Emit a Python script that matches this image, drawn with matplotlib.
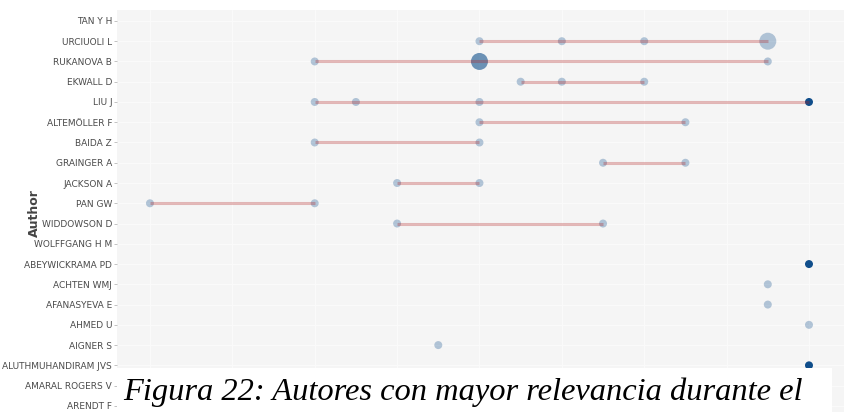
import matplotlib
matplotlib.use("Agg")
import matplotlib.pyplot as plt
from matplotlib.patches import Rectangle
import numpy as np

# ---- data ----
authors = ["TAN Y H", "URCIUOLI L", "RUKANOVA B", "EKWALL D", "LIU J",
           "ALTEMÖLLER F", "BAIDA Z", "GRAINGER A", "JACKSON A", "PAN GW",
           "WIDDOWSON D", "WOLFFGANG H M", "ABEYWICKRAMA PD", "ACHTEN WMJ",
           "AFANASYEVA E", "AHMED U", "AIGNER S", "ALUTHMUHANDIRAM JVS",
           "AMARAL ROGERS V", "ARENDT F"]

# one entry per point: author, year, number of articles, total citations per year
pt_author = ["URCIUOLI L", "URCIUOLI L", "URCIUOLI L", "URCIUOLI L",
             "RUKANOVA B", "RUKANOVA B", "RUKANOVA B",
             "EKWALL D", "EKWALL D", "EKWALL D",
             "LIU J", "LIU J", "LIU J", "LIU J",
             "ALTEMÖLLER F", "ALTEMÖLLER F",
             "BAIDA Z", "BAIDA Z",
             "GRAINGER A", "GRAINGER A",
             "JACKSON A", "JACKSON A",
             "PAN GW", "PAN GW",
             "WIDDOWSON D", "WIDDOWSON D",
             "ABEYWICKRAMA PD", "ACHTEN WMJ", "AFANASYEVA E", "AHMED U",
             "AIGNER S", "ALUTHMUHANDIRAM JVS"]
pt_year = [2015, 2017, 2019, 2022,
           2011, 2015, 2022,
           2016, 2017, 2019,
           2011, 2012, 2015, 2023,
           2015, 2020,
           2011, 2015,
           2018, 2020,
           2013, 2015,
           2007, 2011,
           2013, 2018,
           2023, 2022, 2022, 2023,
           2014, 2023]
pt_freq = [1, 1, 1, 3,
           1, 3, 1,
           1, 1, 1,
           1, 1, 1, 1,
           1, 1,
           1, 1,
           1, 1,
           1, 1,
           1, 1,
           1, 1,
           1, 1, 1, 1,
           1, 1]
pt_tcpy = [0.5, 0.5, 0.5, 0.5,
           0.5, 5.0, 0.5,
           0.5, 0.5, 0.5,
           0.5, 0.5, 0.5, 11.0,
           0.5, 0.5,
           0.5, 0.5,
           0.5, 0.5,
           0.5, 0.5,
           0.5, 0.5,
           0.5, 0.5,
           11.0, 0.5, 0.5, 0.5,
           0.5, 11.0]

caption = "Figura 22: Autores con mayor relevancia durante el"

# ---- figure ----
W, H = 844, 412
fig = plt.figure(figsize=(W / 100, H / 100), dpi=100)
fig.patch.set_facecolor("white")

def fx(px):
    return px / W

def fy(py):
    return 1 - py / H

ax_left, ax_right, ax_top, ax_bot = 117, 844, 9.8, 416
ax = fig.add_axes([fx(ax_left), fy(ax_bot), fx(ax_right - ax_left), (ax_bot - ax_top) / H])
ax.set_facecolor("#f5f5f5")

ypos = {a: i for i, a in enumerate(authors)}
ys = np.array([ypos[a] for a in pt_author])
xs = np.array(pt_year, dtype=float)
freq = np.array(pt_freq, dtype=float)
tc = np.array(pt_tcpy, dtype=float)

# sizes: scale freq to diameter in px
fmin, fmax = freq.min(), freq.max()
diam_px = 8 + (freq - fmin) / (fmax - fmin) * (17 - 8)
sizes = (diam_px * 0.72) ** 2
alphas = 0.3 + 0.7 * (tc - tc.min()) / (tc.max() - tc.min())
base = np.array([16, 78, 139]) / 255.0
colors = [(base[0], base[1], base[2], a) for a in alphas]

ax.scatter(xs, ys, s=sizes, c=colors, linewidths=0, zorder=3)

# lines from first to last year per author
for a in authors:
    yrs = [y for aa, y in zip(pt_author, pt_year) if aa == a]
    if len(yrs) > 1:
        ax.plot([min(yrs), max(yrs)], [ypos[a], ypos[a]], color=(178/255, 34/255, 34/255, 0.3),
                lw=2.2, solid_capstyle="butt", zorder=4)

x0 = 2007
ax.set_xlim(x0 - 0.80, x0 + 16.85)
ax.set_ylim(19.5, -0.55)
ax.set_xticks(np.arange(x0, x0 + 17, 2))
ax.set_xticklabels([])
ax.tick_params(axis="x", length=0)
ax.set_yticks(range(len(authors)))
ax.set_yticklabels(authors, fontsize=6.5, color="#4a4a4a", family="DejaVu Sans")
ax.tick_params(axis="y", length=2.5, width=0.5, color="#aaaaaa", pad=1)
ax.grid(True, color="#fbfbfb", lw=0.6, zorder=0)
ax.set_axisbelow(True)
for s in ax.spines.values():
    s.set_visible(False)

fig.text(fx(34), fy(213), "Author", rotation=90, fontsize=9, fontweight="bold",
         color="#444444", ha="center", va="center", family="DejaVu Sans")

# caption overlay
fig.patches.append(Rectangle((fx(117), 0), fx(832 - 117), (H - 368) / H,
                             transform=fig.transFigure, facecolor="white", edgecolor="none", zorder=10))
fig.text(fx(123), fy(400), caption, fontsize=23.4, style="italic", family="Liberation Serif",
         color="black", ha="left", va="baseline", zorder=11)

fig.savefig("out.png", dpi=100)
